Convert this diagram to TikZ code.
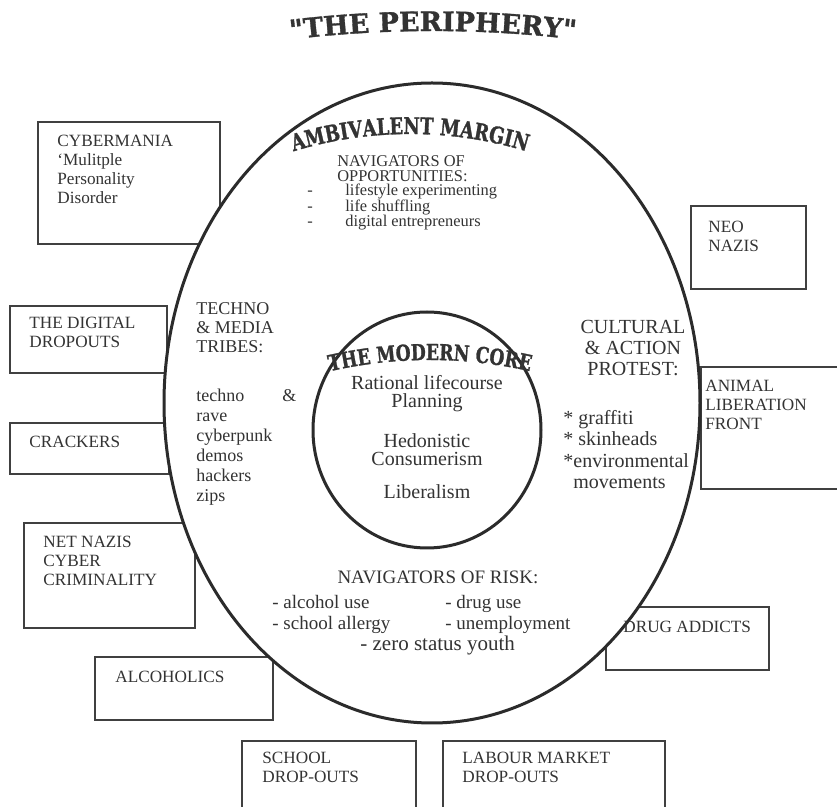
\documentclass[tikz,border=0pt]{standalone}
\usepackage{fontspec}
\setmainfont{Liberation Serif}
\newfontfamily\titlefont{DejaVu Serif}[FakeBold=1.2]
\newfontfamily\heavyfont{DejaVu Serif}[FakeStretch=0.78, FakeBold=1.2]
\usetikzlibrary{positioning,decorations.text}

\definecolor{inkgray}{HTML}{333333}
\definecolor{ringgray}{HTML}{2B2B2B}
\definecolor{boxgray}{HTML}{404040}

\newcommand{\titlestyle}{\titlefont\bfseries\fontsize{13.4}{14}\selectfont\color{inkgray}}
\newcommand{\marginstyle}{\heavyfont\bfseries\fontsize{11.5}{11.5}\selectfont\color{inkgray}}
\newcommand{\corestyle}{\heavyfont\bfseries\fontsize{11}{11}\selectfont\color{inkgray}}

\tikzset{
  periph/.style={draw=boxgray, line width=0.8pt, fill=white, anchor=north west, inner sep=0pt},
  boxlabel/.style={anchor=north west, align=left, inner sep=0pt, text=inkgray,
    font=\fontsize{8.6}{9.5}\selectfont},
  ring/.style={draw=ringgray, line width=1.5pt, fill=white},
  zone/.style={inner sep=0pt, text=inkgray},
}

\begin{document}
\begin{tikzpicture}[x=0.5pt,y=-0.5pt]
\useasboundingbox (0,0) rectangle (837,807);

% title
\path[decorate, decoration={text along path, text align=center,
  text={|\titlestyle|"THE PERIPHERY"}}]
  (273,41.7) arc[start angle=262.34, end angle=277.66, radius=1200];

% the periphery boxes
\node[periph, minimum width=91pt, minimum height=61pt] (cyber) at (37,121) {};
\node[periph, minimum width=78.5pt, minimum height=33.5pt] (digital) at (9,305) {};
\node[periph, minimum width=79.5pt, minimum height=25.5pt] (crackers) at (9,422) {};
\node[periph, minimum width=85.5pt, minimum height=52.5pt] (netnazis) at (23,522) {};
\node[periph, minimum width=89pt, minimum height=31.5pt] (alcoholics) at (94,656) {};
\node[periph, minimum width=87pt, minimum height=40pt] (school) at (241,740) {};
\node[periph, minimum width=111pt, minimum height=40pt] (labour) at (442,740) {};
\node[periph, minimum width=81.5pt, minimum height=31.5pt] (drugs) at (605,606) {};
\node[periph, minimum width=75pt, minimum height=61pt] (animal) at (700,366) {};
\node[periph, minimum width=57.5pt, minimum height=41.5pt] (neonazis) at (690,205) {};

% margin and core
\draw[ring] (432,403) ellipse [x radius=268, y radius=320];
\draw[ring] (427,430) ellipse [x radius=114, y radius=118];

\path[decorate, decoration={text along path, text align=center,
  text={|\marginstyle|AMBIVALENT MARGIN}}]
  (279.8,155.8) arc[start angle=251, end angle=289, radius=400];
\path[decorate, decoration={text along path, text align=center,
  text={|\corestyle|THE MODERN CORE}}]
  (310,376.3) arc[start angle=254.53, end angle=285.47, radius=450];

% ambivalent margin
\node[zone, anchor=north west, align=left, font=\fontsize{8.2}{7.8}\selectfont] (oppshead)
  at (337,155) {NAVIGATORS OF\\OPPORTUNITIES:};
\node[zone, anchor=north west, align=left, font=\fontsize{8.2}{7.7}\selectfont] (oppslist)
  at (307,184) {\makebox[19pt][l]{-}lifestyle experimenting\\
  \makebox[19pt][l]{-}life shuffling\\
  \makebox[19pt][l]{-}digital entrepreneurs};

\node[zone, anchor=north west, align=left, font=\fontsize{9}{9.5}\selectfont] (tribeshead)
  at (196,302) {TECHNO\\\& MEDIA\\TRIBES:};
\node[zone, anchor=north west, align=left, font=\fontsize{9}{10}\selectfont] (tribeslist)
  at (196,389) {\makebox[50pt][l]{techno\hfill\&}\\rave\\cyberpunk\\demos\\hackers\\zips};

\node[zone, anchor=north, align=center, font=\fontsize{10}{10.5}\selectfont] (protesthead)
  at (633,320) {CULTURAL\\\& ACTION\\PROTEST:};
\node[zone, anchor=north west, align=left, font=\fontsize{10}{10.75}\selectfont] (protestlist)
  at (563,410) {* graffiti\\* skinheads\\*environmental\\\hspace*{5pt}movements};

\node[zone, anchor=north, align=center, font=\fontsize{10}{9.25}\selectfont] (coretext)
  at (427,375) {Rational lifecourse\\Planning\\[10.5pt]Hedonistic\\Consumerism\\[7pt]Liberalism};

\node[zone, anchor=north, font=\fontsize{9.5}{10}\selectfont] (riskhead)
  at (438,571) {NAVIGATORS OF RISK:};
\node[zone, anchor=north west, align=left, font=\fontsize{9.5}{10.5}\selectfont] (riskleft)
  at (272,595) {- alcohol use\\- school allergy};
\node[zone, anchor=north west, align=left, font=\fontsize{9.5}{10.5}\selectfont] (riskright)
  at (445,595) {- drug use\\- unemployment};
\node[zone, anchor=north west, font=\fontsize{10.5}{11}\selectfont] (zerostatus)
  at (360,636) {- zero status youth};

% box texts
\node[boxlabel] (cybertext) at ([xshift=10pt,yshift=-7pt]cyber.north west)
  {CYBERMANIA\\`Mulitple\\Personality\\Disorder};
\node[boxlabel] (digitaltext) at ([xshift=10pt,yshift=-6pt]digital.north west)
  {THE DIGITAL\\DROPOUTS};
\node[boxlabel] (crackerstext) at ([xshift=10pt,yshift=-7pt]crackers.north west)
  {CRACKERS};
\node[boxlabel] (netnazistext) at ([xshift=10pt,yshift=-7pt]netnazis.north west)
  {NET NAZIS\\CYBER\\CRIMINALITY};
\node[boxlabel] (alcoholicstext) at ([xshift=10.5pt,yshift=-7.5pt]alcoholics.north west)
  {ALCOHOLICS};
\node[boxlabel] (schooltext) at ([xshift=10.5pt,yshift=-6pt]school.north west)
  {SCHOOL\\DROP-OUTS};
\node[boxlabel] (labourtext) at ([xshift=10pt,yshift=-6pt]labour.north west)
  {LABOUR MARKET\\DROP-OUTS};
\node[boxlabel] (drugstext) at ([xshift=9pt,yshift=-7.5pt]drugs.north west)
  {DRUG ADDICTS};
\node[boxlabel] (animaltext) at ([xshift=2.5pt,yshift=-7pt]animal.north west)
  {ANIMAL\\LIBERATION\\FRONT};
\node[boxlabel] (neonazistext) at ([xshift=9pt,yshift=-8pt]neonazis.north west)
  {NEO\\NAZIS};
\end{tikzpicture}
\end{document}
